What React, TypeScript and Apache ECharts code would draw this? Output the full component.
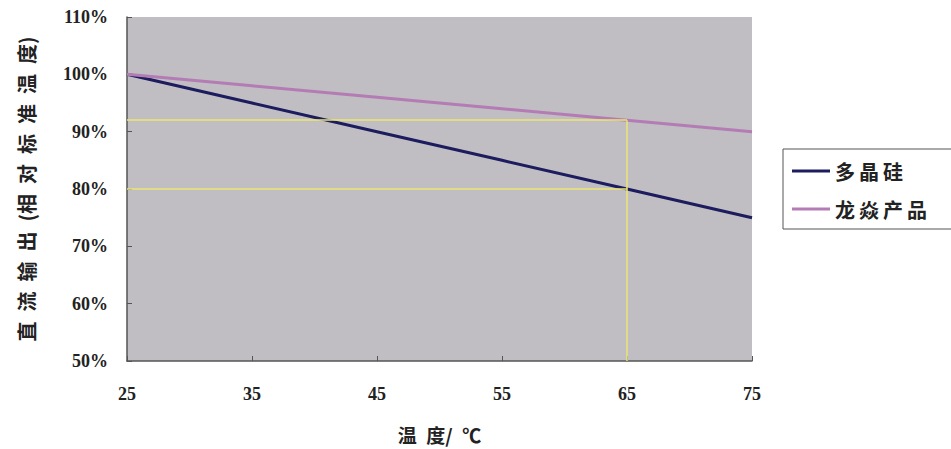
import React, { useEffect, useRef } from "react";
import * as echarts from "echarts";

const temps = ["25", "35", "45", "55", "65", "75"];
const polySi = [100, 95, 90, 85, 80, 75];
const longyan = [100, 98, 96, 94, 92, 90];
const seriesNames = ["多晶硅", "龙焱产品"];
const guideLevels = [92, 80];
const guideTemp = "65";
const yTicks = { min: 50, max: 110, step: 10 };

export default function App() {
  const ref = useRef<HTMLDivElement>(null);
  useEffect(() => {
    document.body.style.margin = "0";
    const chart = echarts.init(ref.current!, null, { renderer: "svg" });
    const labelFont = { fontFamily: "Liberation Serif", fontWeight: "bold" as const, fontSize: 18, color: "#222" };
    const cjk = "Noto Sans CJK SC";
    chart.setOption({
      animation: false,
      backgroundColor: "#ffffff",
      grid: { left: 127, right: 199, top: 17, bottom: 87, show: true, backgroundColor: "#c0bec2", borderWidth: 0 },
      legend: {
        orient: "vertical",
        left: 783,
        top: 149,
        data: seriesNames,
        formatter: (n: string) => n.split("").join("\u2009"),
        borderColor: "#555",
        borderWidth: 1,
        padding: [12, 40, 10, 9],
        itemGap: 18,
        itemWidth: 38,
        itemHeight: 3,
        icon: "rect",
        textStyle: { fontFamily: cjk, fontWeight: "bold", fontSize: 20, color: "#222" },
      },
      xAxis: {
        type: "category",
        data: temps,
        boundaryGap: false,
        name: "温\u2002度/\u2002℃",
        nameLocation: "middle",
        nameGap: 64,
        nameTextStyle: { fontFamily: cjk, fontWeight: "bold", fontSize: 19, color: "#222" },
        axisLine: { lineStyle: { color: "#555", width: 1.5 } },
        axisTick: { inside: true, length: 5, lineStyle: { color: "#555" } },
        axisLabel: { ...labelFont, margin: 24 },
        splitLine: { show: false },
      },
      yAxis: {
        type: "value",
        min: yTicks.min,
        max: yTicks.max,
        interval: yTicks.step,
        name: "直\u2002流\u2002输\u2002出\u2002(相\u2002对\u2002标\u2002准\u2002温\u2002度)",
        nameLocation: "middle",
        nameGap: 91,
        nameRotate: 90,
        nameTextStyle: { fontFamily: cjk, fontWeight: "bold", fontSize: 20, color: "#222" },
        axisLine: { show: true, lineStyle: { color: "#555", width: 1.5 } },
        axisTick: { show: true, inside: true, length: 5, lineStyle: { color: "#555" } },
        axisLabel: { ...labelFont, margin: 19, formatter: "{value}%" },
        splitLine: { show: false },
      },
      series: [
        {
          name: seriesNames[0],
          type: "line",
          data: polySi,
          symbol: "none",
          lineStyle: { color: "#1c1c5e", width: 3 },
          itemStyle: { color: "#1c1c5e" },
          z: 3,
        },
        {
          name: seriesNames[1],
          type: "line",
          data: longyan,
          symbol: "none",
          lineStyle: { color: "#b47cb4", width: 3 },
          itemStyle: { color: "#b47cb4" },
          z: 3,
          markLine: {
            silent: true,
            symbol: "none",
            label: { show: false },
            emphasis: { disabled: true },
            lineStyle: { color: "#eae670", width: 1.5, type: "solid", opacity: 1 },
            data: [
              ...guideLevels.map((lv) => [
                { coord: [temps[0], lv] },
                { coord: [guideTemp, lv] },
              ]),
              [
                { coord: [guideTemp, guideLevels[0]] },
                { coord: [guideTemp, yTicks.min] },
              ],
            ],
          },
        },
      ],
    });
    return () => chart.dispose();
  }, []);
  return <div ref={ref} style={{ width: 951, height: 449 }} />;
}
